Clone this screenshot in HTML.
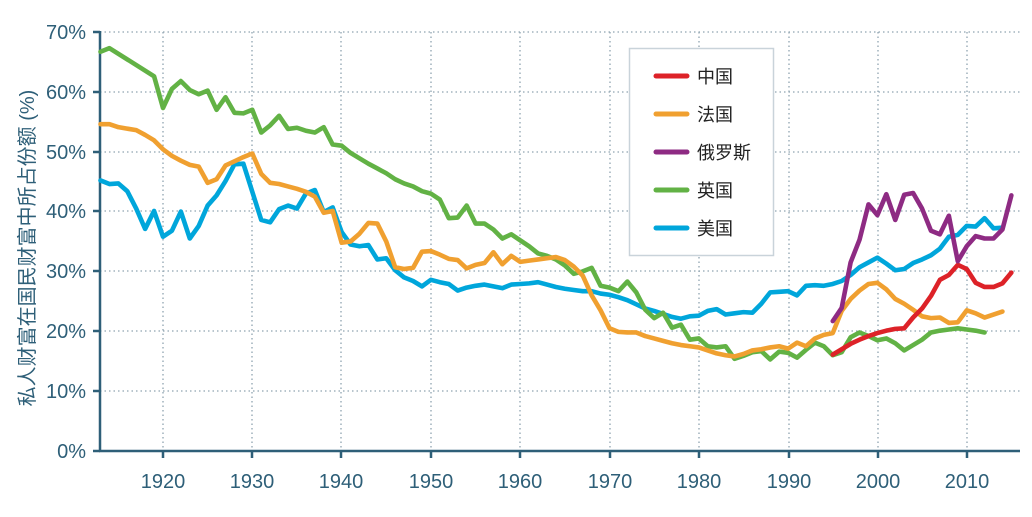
<!DOCTYPE html>
<html><head><meta charset="utf-8"><style>
html,body{margin:0;padding:0;background:#fff;}
svg{display:block;font-family:"Liberation Sans","Noto Sans CJK SC",sans-serif;}
</style></head><body>
<svg width="1032" height="517" viewBox="0 0 1032 517">
<g stroke="#8fa3b0" stroke-width="1.3" stroke-dasharray="1.5 3">
<line x1="100" y1="32" x2="1020" y2="32"/><line x1="100" y1="92" x2="1020" y2="92"/>
<line x1="100" y1="152" x2="1020" y2="152"/><line x1="100" y1="211" x2="1020" y2="211"/>
<line x1="100" y1="271" x2="1020" y2="271"/><line x1="100" y1="331" x2="1020" y2="331"/>
<line x1="100" y1="391" x2="1020" y2="391"/>
<line x1="163" y1="32" x2="163" y2="451"/><line x1="252" y1="32" x2="252" y2="451"/>
<line x1="341" y1="32" x2="341" y2="451"/><line x1="431" y1="32" x2="431" y2="451"/>
<line x1="520" y1="32" x2="520" y2="451"/><line x1="610" y1="32" x2="610" y2="451"/>
<line x1="699" y1="32" x2="699" y2="451"/><line x1="789" y1="32" x2="789" y2="451"/>
<line x1="878" y1="32" x2="878" y2="451"/><line x1="967" y1="32" x2="967" y2="451"/>
</g>
<g stroke="#2e5f78" stroke-width="2.5" fill="none">
<line x1="100" y1="31" x2="100" y2="452"/><line x1="99" y1="451" x2="1020" y2="451"/>
<path d="M93 32H100M93 92H100M93 152H100M93 211H100M93 271H100M93 331H100M93 391H100M93 451H100M163 451V458M252 451V458M341 451V458M431 451V458M520 451V458M610 451V458M699 451V458M789 451V458M878 451V458M967 451V458"/>
</g>
<g fill="#2e5f78" font-size="20" text-anchor="end">
<text x="86" y="39">70%</text><text x="86" y="99">60%</text><text x="86" y="159">50%</text>
<text x="86" y="218">40%</text><text x="86" y="278">30%</text><text x="86" y="338">20%</text>
<text x="86" y="398">10%</text><text x="86" y="458">0%</text>
</g>
<g fill="#2e5f78" font-size="20" text-anchor="middle">
<text x="163" y="488">1920</text><text x="252" y="488">1930</text><text x="341" y="488">1940</text>
<text x="431" y="488">1950</text><text x="520" y="488">1960</text><text x="610" y="488">1970</text>
<text x="699" y="488">1980</text><text x="789" y="488">1990</text><text x="878" y="488">2000</text>
<text x="967" y="488">2010</text>
</g>
<text transform="translate(34,248) rotate(-90)" fill="#2e5f78" font-size="20" text-anchor="middle">私人财富在国民财富中所占份额 (%)</text>
<g fill="none" stroke-width="4.6" stroke-linejoin="round" stroke-linecap="round" transform="matrix(8.93 0 0 -5.986 -16982.6 451)">
<polyline vector-effect="non-scaling-stroke" stroke="#00a6db" points="1913,45.2 1914,44.6 1915,44.7 1916,43.4 1917,40.5 1918,37.1 1919,40.1 1920,35.8 1921,36.8 1922,40 1923,35.5 1924,37.6 1925,41 1926,42.7 1927,45.1 1928,47.9 1929,48 1930,43.3 1931,38.6 1932,38.2 1933,40.4 1934,41 1935,40.5 1936,43 1937,43.6 1938,39.9 1939,40.7 1940,36.6 1941,34.5 1942,34.2 1943,34.4 1944,32 1945,32.2 1946,30.2 1947,29 1948,28.4 1949,27.5 1950,28.6 1951,28.2 1952,27.9 1953,26.8 1954,27.3 1955,27.6 1956,27.8 1957,27.5 1958,27.2 1959,27.8 1960,27.9 1961,28 1962,28.2 1963,27.8 1964,27.4 1965,27.1 1966,26.9 1967,26.7 1968,26.7 1969,26.3 1970,26.1 1971,25.7 1972,25.2 1973,24.5 1974,23.8 1975,23.4 1976,22.9 1977,22.4 1978,22.1 1979,22.5 1980,22.6 1981,23.4 1982,23.7 1983,22.8 1984,23 1985,23.2 1986,23.1 1987,24.6 1988,26.5 1989,26.6 1990,26.7 1991,26 1992,27.6 1993,27.7 1994,27.6 1995,27.9 1996,28.4 1997,29.4 1998,30.7 1999,31.5 2000,32.3 2001,31.3 2002,30.2 2003,30.4 2004,31.4 2005,32 2006,32.7 2007,33.8 2008,35.8 2009,36.1 2010,37.6 2011,37.5 2012,38.9 2013,37.2 2014,37.3"/>
<polyline vector-effect="non-scaling-stroke" stroke="#62b245" points="1913,66.7 1914,67.3 1919,62.6 1920,57.3 1921,60.5 1922,61.8 1923,60.3 1924,59.6 1925,60.2 1926,57 1927,59.1 1928,56.5 1929,56.4 1930,57 1931,53.2 1932,54.4 1933,56 1934,53.8 1935,54 1936,53.5 1937,53.2 1938,54.1 1939,51.2 1940,51 1941,49.8 1942,48.9 1943,48 1944,47.2 1945,46.4 1946,45.4 1947,44.7 1948,44.2 1949,43.4 1950,43 1951,42 1952,38.9 1953,39 1954,41 1955,38 1956,38 1957,37 1958,35.5 1959,36.2 1960,35.2 1961,34.2 1962,33 1963,32.6 1964,32 1965,31 1966,29.6 1967,30 1968,30.6 1969,27.6 1970,27.3 1971,26.7 1972,28.3 1973,26.5 1974,23.6 1975,22.2 1976,23.1 1977,20.6 1978,21.1 1979,18.6 1980,18.8 1981,17.5 1982,17.3 1983,17.5 1984,15.4 1985,15.9 1986,16.5 1987,16.7 1988,15.3 1989,16.6 1990,16.4 1991,15.6 1992,16.9 1993,18.1 1994,17.5 1995,16 1996,16.5 1997,19 1998,19.8 1999,19.2 2000,18.5 2001,18.8 2002,18 2003,16.8 2004,17.7 2005,18.6 2006,19.8 2007,20.1 2008,20.3 2009,20.5 2010,20.3 2011,20.1 2012,19.8"/>
<polyline vector-effect="non-scaling-stroke" stroke="#f0a030" points="1913,54.6 1914,54.6 1915,54.1 1917,53.6 1918,52.8 1919,51.9 1920,50.4 1921,49.3 1922,48.5 1923,47.8 1924,47.5 1925,44.8 1926,45.4 1927,47.7 1928,48.4 1929,49.1 1930,49.7 1931,46.3 1932,44.8 1933,44.6 1934,44.2 1935,43.8 1936,43.3 1937,42.5 1938,39.8 1939,40.1 1940,34.8 1941,35 1942,36.3 1943,38.1 1944,38 1945,35 1946,30.7 1947,30.4 1948,30.6 1949,33.3 1950,33.4 1951,32.8 1952,32.1 1953,31.9 1954,30.5 1955,31.1 1956,31.4 1957,33.2 1958,31.2 1959,32.6 1960,31.6 1961,31.8 1962,32 1963,32.2 1964,32.4 1965,31.9 1966,30.8 1967,29.3 1968,26 1969,23.5 1970,20.5 1971,19.9 1972,19.8 1973,19.8 1974,19.2 1975,18.8 1976,18.4 1977,18 1978,17.7 1979,17.5 1980,17.3 1981,16.8 1982,16.3 1983,16 1984,15.8 1985,16.2 1986,16.8 1987,17 1988,17.3 1989,17.5 1990,17.1 1991,18.1 1992,17.5 1993,18.8 1994,19.4 1995,19.7 1996,23.4 1997,25.4 1998,26.8 1999,27.9 2000,28.1 2001,27 2002,25.4 2003,24.6 2004,23.6 2005,22.5 2006,22.2 2007,22.3 2008,21.4 2009,21.5 2010,23.5 2011,23 2012,22.3 2013,22.8 2014,23.3"/>
<polyline vector-effect="non-scaling-stroke" stroke="#dd2228" points="1995,16.1 1996,17 1997,17.9 1998,18.6 1999,19.2 2000,19.7 2001,20.1 2002,20.4 2003,20.5 2004,22.3 2005,23.8 2006,25.9 2007,28.6 2008,29.4 2009,31.1 2010,30.4 2011,28.1 2012,27.4 2013,27.4 2014,28 2015,29.8"/>
<polyline vector-effect="non-scaling-stroke" stroke="#8e2b83" points="1995,21.7 1996,23.9 1997,31.5 1998,35.3 1999,41.2 2000,39.4 2001,42.9 2002,38.6 2003,42.8 2004,43.1 2005,40.5 2006,36.8 2007,36.2 2008,39.3 2009,31.7 2010,34.2 2011,35.9 2012,35.5 2013,35.5 2014,37 2015,42.7"/>
</g>
<rect x="629.5" y="48.5" width="144" height="207" fill="#fff" stroke="#c9d3da" stroke-width="1.5"/>
<g stroke-width="5" stroke-linecap="round">
<line x1="656" y1="76" x2="687" y2="76" stroke="#dd2228"/>
<line x1="656" y1="114" x2="687" y2="114" stroke="#f0a030"/>
<line x1="656" y1="152" x2="687" y2="152" stroke="#8e2b83"/>
<line x1="656" y1="190" x2="687" y2="190" stroke="#62b245"/>
<line x1="656" y1="228" x2="687" y2="228" stroke="#00a6db"/>
</g>
<g fill="#222" font-size="18">
<text x="697" y="83">中国</text><text x="697" y="121">法国</text><text x="697" y="159">俄罗斯</text>
<text x="697" y="197">英国</text><text x="697" y="235">美国</text>
</g>
</svg>
</body></html>
